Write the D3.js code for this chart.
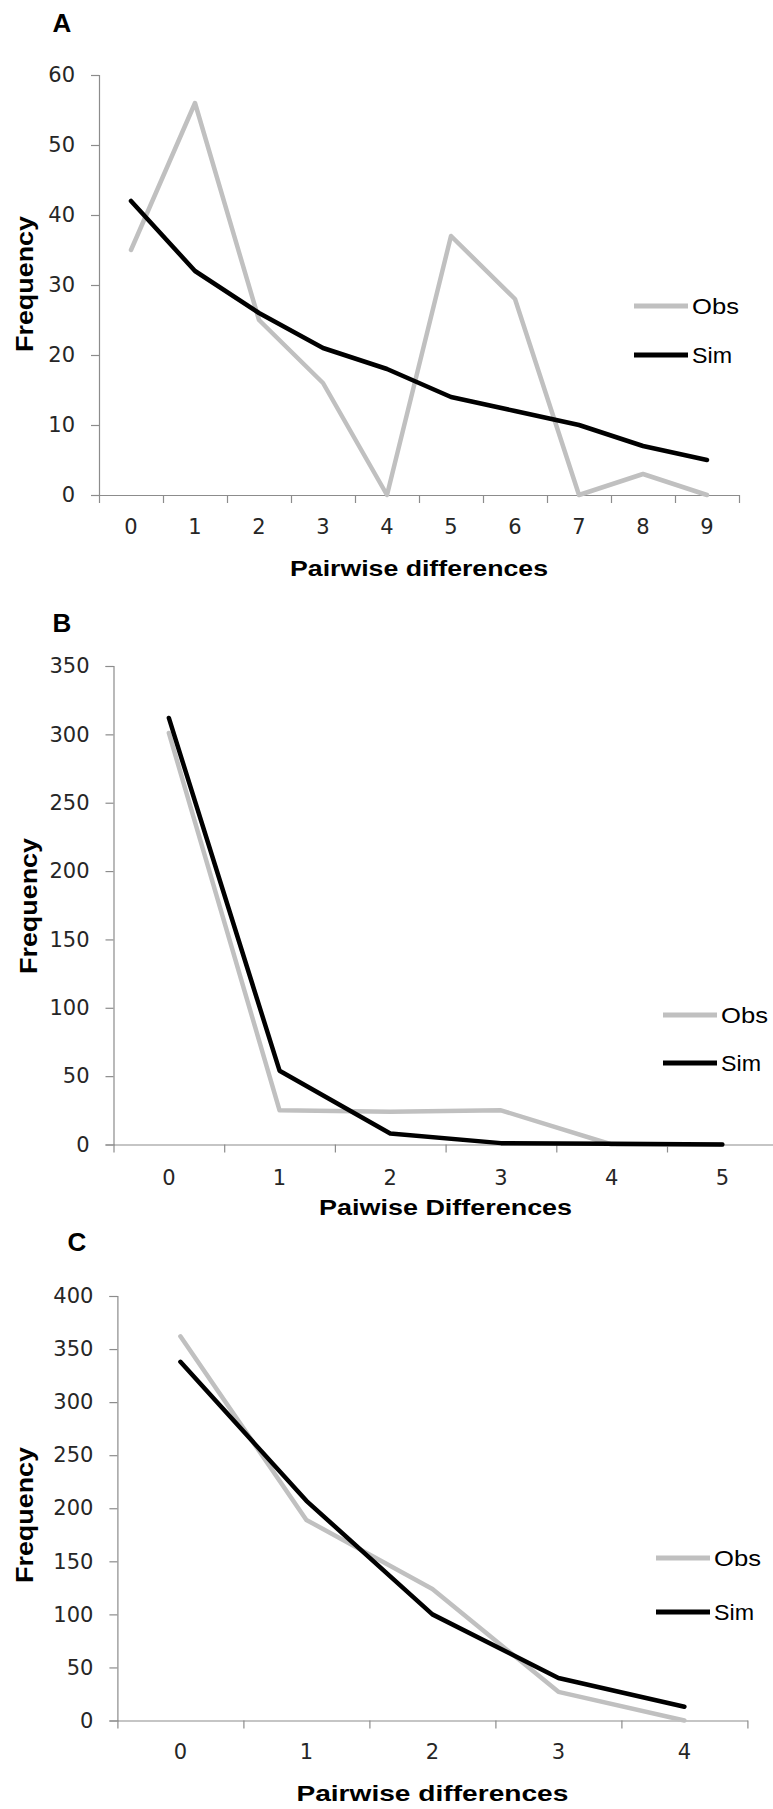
<!DOCTYPE html>
<html>
<head>
<meta charset="utf-8">
<script src="https://cdn.jsdelivr.net/npm/d3@7"></script>
<style>
  body { margin: 0; background: #fff; }
  svg { display: block; }
  .tick text { font-family: "DejaVu Sans", sans-serif; font-size: 21px; fill: #262626; }
  .title { font-family: "Liberation Sans", Arial, sans-serif; font-weight: bold; fill: #000; }
  .legend text { font-family: "Liberation Sans", Arial, sans-serif; font-size: 22px; fill: #000; }
</style>
</head>
<body>
<figure id="chart" style="margin:0"></figure>
<script>
// panel A
const catsA = ["0", "1", "2", "3", "4", "5", "6", "7", "8", "9"];
const obsA = [35, 56, 25, 16, 0, 37, 28, 0, 3, 0];
const simA = [42, 32, 26, 21, 18, 14, 12, 10, 7, 5];
const yTicksA = [0, 10, 20, 30, 40, 50, 60];

// panel B
const catsB = ["0", "1", "2", "3", "4", "5"];
const obsB = [301, 25, 24, 25, 0, 0];
const simB = [312, 54, 8, 1, 0.5, 0];
const yTicksB = [0, 50, 100, 150, 200, 250, 300, 350];

// panel C
const catsC = ["0", "1", "2", "3", "4"];
const obsC = [362, 189, 124, 27, 0];
const simC = [338, 207, 100, 40, 13];
const yTicksC = [0, 50, 100, 150, 200, 250, 300, 350, 400];

const seriesNames = ["Obs", "Sim"];
const colors = ["#c0c0c0", "#000000"];

const width = 773, height = 1809;

const svg = d3.select("figure#chart")
  .append("svg")
  .attr("width", width)
  .attr("height", height);

// one Excel-style line panel
function drawPanel(p) {
  const g = svg.append("g");

  const x = d3.scaleBand().domain(p.cats).range([p.left, p.right]).padding(0);
  const xEdge = d3.scaleLinear().domain([0, p.cats.length]).range([p.left, p.right]);
  const y = d3.scaleLinear().domain([0, d3.max(p.yTicks)]).range([p.bottom, p.top]);

  // y axis
  const yAxis = g.append("g")
    .attr("transform", "translate(" + p.left + ",0)")
    .call(d3.axisLeft(y).tickValues(p.yTicks).tickSize(8).tickPadding(16));
  yAxis.select(".domain").attr("stroke", "#8c8c8c").attr("stroke-width", 1.2);
  yAxis.selectAll(".tick line").attr("stroke", "#8c8c8c").attr("stroke-width", 1.2);

  // x axis: boundary ticks
  const xAxis = g.append("g")
    .attr("transform", "translate(0," + p.bottom + ")")
    .call(d3.axisBottom(xEdge).tickValues(d3.range(p.cats.length + 1)).tickFormat("").tickSize(8).tickSizeOuter(0));
  xAxis.select(".domain").attr("stroke", "#8c8c8c").attr("stroke-width", 1.2);
  xAxis.selectAll(".tick line").attr("stroke", "#8c8c8c").attr("stroke-width", 1.2);

  // x axis: category labels
  const xLab = g.append("g")
    .attr("transform", "translate(0," + p.bottom + ")")
    .call(d3.axisBottom(x).tickSize(0).tickPadding(p.labPad));
  xLab.select(".domain").remove();

  // lines
  const line = d3.line()
    .x((d, i) => x(p.cats[i]) + x.bandwidth() / 2)
    .y(d => y(d));

  [p.obs, p.sim].forEach((s, k) => {
    g.append("path")
      .datum(s)
      .attr("d", line)
      .attr("fill", "none")
      .attr("stroke", colors[k])
      .attr("stroke-width", 4.5)
      .attr("stroke-linejoin", "round")
      .attr("stroke-linecap", "round");
  });

  // legend
  const leg = g.append("g").attr("class", "legend");
  seriesNames.forEach((name, k) => {
    const ly = p.legY + k * p.legGap;
    leg.append("line")
      .attr("x1", p.legX).attr("x2", p.legX + 54)
      .attr("y1", ly).attr("y2", ly)
      .attr("stroke", colors[k]).attr("stroke-width", 5);
    leg.append("text")
      .attr("x", p.legX + 58).attr("y", ly + 8)
      .attr("textLength", name === "Obs" ? 47 : 40)
      .attr("lengthAdjust", "spacingAndGlyphs")
      .text(name);
  });

  // titles
  g.append("text").attr("class", "title")
    .attr("x", p.tagX).attr("y", p.tagY)
    .attr("text-anchor", "middle")
    .style("font-size", "26px")
    .text(p.tag);

  g.append("text").attr("class", "title")
    .attr("x", (p.left + p.right) / 2).attr("y", p.xTitleY)
    .attr("text-anchor", "middle")
    .attr("textLength", p.xTitleLen)
    .attr("lengthAdjust", "spacingAndGlyphs")
    .style("font-size", "22px")
    .text(p.xTitle);

  g.append("text").attr("class", "title")
    .attr("transform", "translate(" + p.yTitleX + "," + p.yTitleY + ") rotate(-90)")
    .attr("text-anchor", "middle")
    .attr("textLength", 136)
    .attr("lengthAdjust", "spacingAndGlyphs")
    .style("font-size", "23px")
    .text("Frequency");
}

drawPanel({
  cats: catsA, obs: obsA, sim: simA, yTicks: yTicksA,
  left: 99, right: 739, top: 75, bottom: 495, labPad: 24,
  legX: 634, legY: 306, legGap: 49,
  tag: "A", tagX: 62, tagY: 32,
  xTitle: "Pairwise differences", xTitleY: 576, xTitleLen: 258,
  yTitleX: 33, yTitleY: 284
});

drawPanel({
  cats: catsB, obs: obsB, sim: simB, yTicks: yTicksB,
  left: 113.5, right: 777.7, top: 666, bottom: 1144.5, labPad: 26,
  legX: 663, legY: 1015, legGap: 48,
  tag: "B", tagX: 62, tagY: 632,
  xTitle: "Paiwise Differences", xTitleY: 1215, xTitleLen: 253,
  yTitleX: 37, yTitleY: 906
});

drawPanel({
  cats: catsC, obs: obsC, sim: simC, yTicks: yTicksC,
  left: 117.4, right: 747.4, top: 1296, bottom: 1720.5, labPad: 24,
  legX: 656, legY: 1558, legGap: 54,
  tag: "C", tagX: 77, tagY: 1251,
  xTitle: "Pairwise differences", xTitleY: 1801, xTitleLen: 272,
  yTitleX: 33, yTitleY: 1515
});
</script>
</body>
</html>
